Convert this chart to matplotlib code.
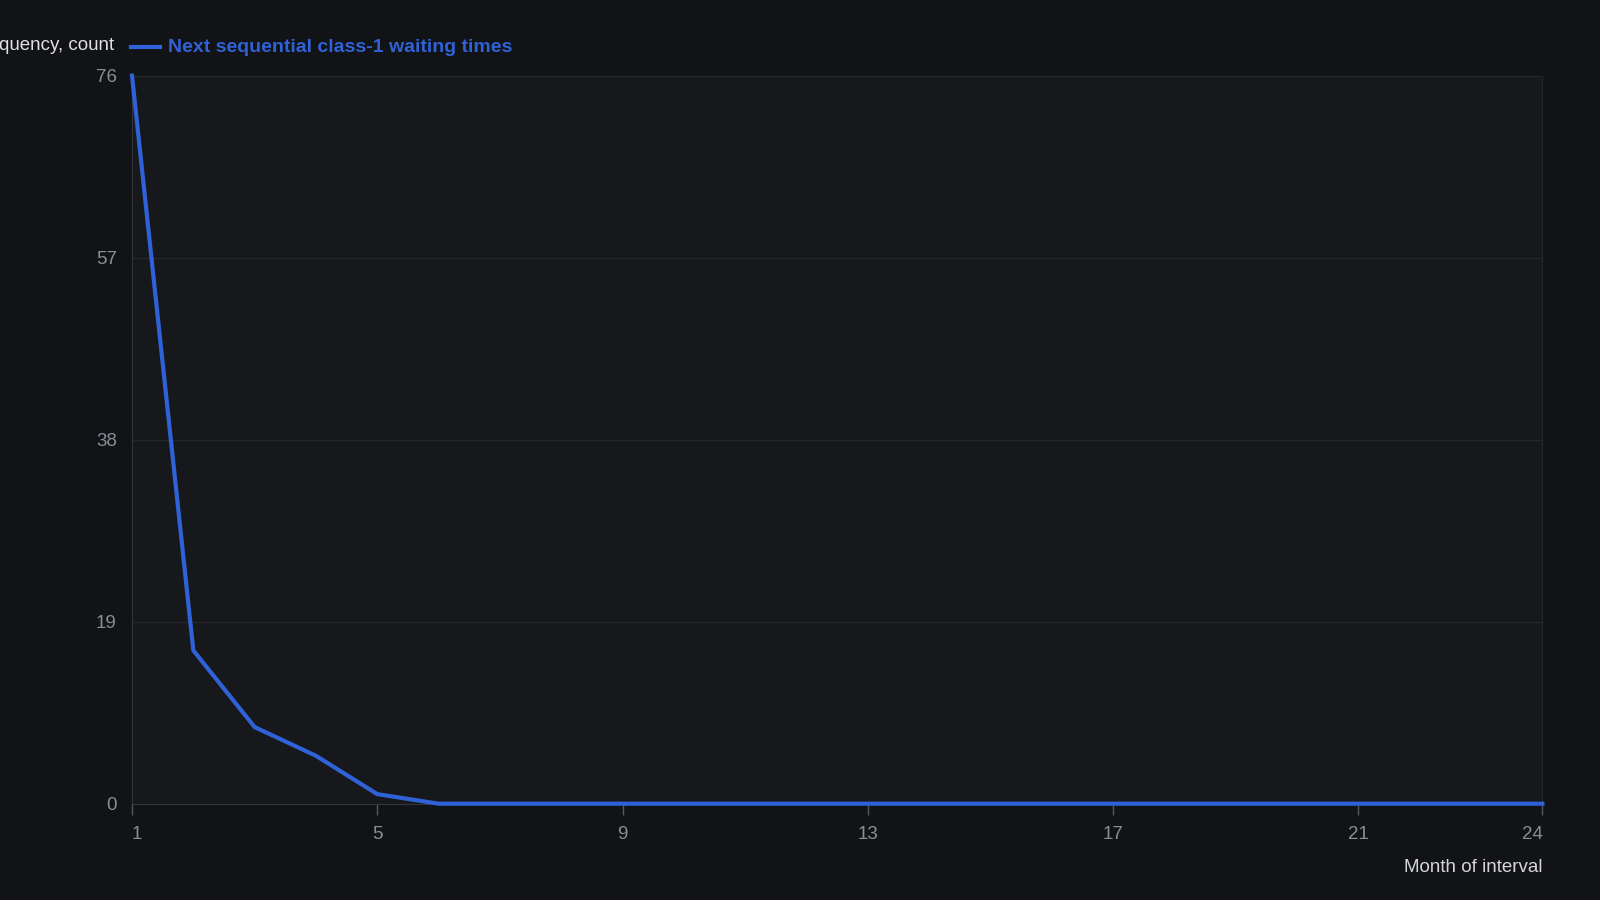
import matplotlib.pyplot as plt

months = list(range(1, 25))
counts = [76, 16, 8, 5, 1, 0, 0, 0, 0, 0, 0, 0,
          0, 0, 0, 0, 0, 0, 0, 0, 0, 0, 0, 0]
xticks = [1, 5, 9, 13, 17, 21, 24]
yticks = [0, 19, 38, 57, 76]
series_name = "Next sequential class-1 waiting times"

bg = "#111317"
panel = "#17181c"
grid_c = "#24262b"
tick_c = "#8a8d93"
blue = "#2f62d6"

plt.rcParams['font.family'] = ['Liberation Sans', 'DejaVu Sans']

fig = plt.figure(figsize=(16, 9), dpi=100, facecolor=bg)
ax = fig.add_axes([0.0825, 0.107, 0.8815, 0.809])
ax.set_facecolor(panel)

ax.plot(months, counts, color=blue, lw=3.0, solid_joinstyle='miter', zorder=3, clip_on=False)

ax.set_xlim(1, 24)
ax.set_ylim(0, 76)
ax.set_yticks(yticks)
ax.set_xticks(xticks)
ax.set_yticklabels([str(v) for v in yticks])
ax.set_xticklabels([str(v) for v in xticks])
ax.grid(axis='y', color=grid_c, lw=1)
ax.tick_params(axis='y', length=0, pad=11, labelsize=13.5, labelcolor=tick_c)
ax.tick_params(axis='x', length=8, width=1, color='#55585e', pad=8, labelsize=13.5, labelcolor=tick_c)
labels = ax.get_xticklabels()
labels[0].set_ha('left')
labels[-1].set_ha('right')

for s in ['left', 'bottom', 'top', 'right']:
    ax.spines[s].set_color(grid_c)
ax.spines['left'].set_color('#34363c')
ax.spines['bottom'].set_color('#34363c')

fig.text(114 / 1600, 1 - 45 / 900, "Frequency, count", ha='right', va='center',
         color='#e0e0e0', fontsize=13.5)
fig.lines.append(plt.Line2D([131 / 1600, 160 / 1600], [1 - 47 / 900, 1 - 47 / 900],
                            color=blue, lw=3.0, transform=fig.transFigure))
fig.text(168 / 1600, 1 - 47 / 900, series_name, ha='left', va='center',
         color=blue, fontsize=14, fontweight='bold')
fig.text(1543 / 1600, 1 - 868 / 900, "Month of interval", ha='right', va='center',
         color='#d6d6d6', fontsize=13.5)

fig.savefig("out.png", dpi=100, facecolor=bg)
